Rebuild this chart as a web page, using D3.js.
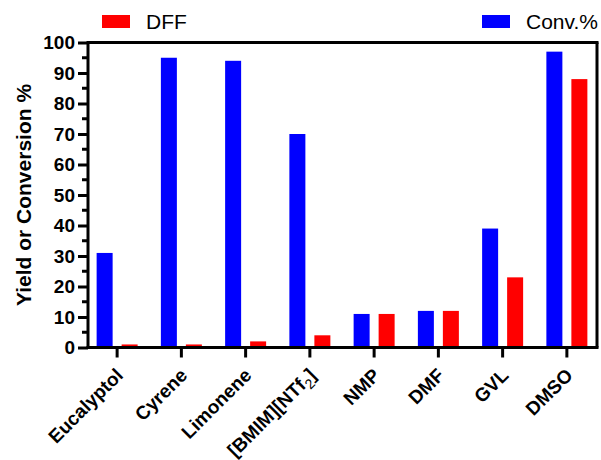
<!DOCTYPE html>
<html>
<head>
<meta charset="utf-8">
<script src="https://cdn.jsdelivr.net/npm/d3@7"></script>
<style>
  body { margin: 0; background: #fff; }
  text { font-family: "Liberation Sans", Arial, sans-serif; }
</style>
</head>
<body>
<svg id="chart"></svg>
<script>
// solvents on the x axis
let solvents = ['Eucalyptol', 'Cyrene', 'Limonene', '[BMIM][NTf2]', 'NMP', 'DMF', 'GVL', 'DMSO']
// series values
let convValues = [31, 95, 94, 70, 11, 12, 39, 97]
let dffValues = [1, 1, 2, 4, 11, 12, 23, 88]
let seriesNames = ['Conv.%', 'DFF']
let yTicks = [0, 10, 20, 30, 40, 50, 60, 70, 80, 90, 100]

let outerWidth = 601
let outerHeight = 460
let margins = { top: 42.5, bottom: 112.5, left: 88, right: 4 }

let svg = d3.select('svg#chart')
  .attr('width', outerWidth)
  .attr('height', outerHeight)

let colorScale = d3.scaleOrdinal()
  .domain(seriesNames)
  .range(['#0000ff', '#ff0000'])

// one row per solvent, built from the arrays above
let rows = solvents.map((s, i) => ({ solvent: s, 'Conv.%': convValues[i], DFF: dffValues[i] }))

let xScale = d3.scaleBand()
  .domain(solvents)
  .range([85, 599])
  .padding(0)

let subScale = d3.scaleBand()
  .domain(seriesNames)
  .range([-20.5, 20.5])
  .paddingInner(0.36)

let yScale = d3.scaleLinear()
  .domain([0, 100])
  .range([outerHeight - margins.bottom, margins.top])

let y0 = yScale(0)
let xLeft = margins.left
let xRight = outerWidth - margins.right

// bars
let groups = svg.append('g')
  .selectAll('g')
  .data(rows)
  .join('g')
  .attr('transform', d => `translate(${xScale(d.solvent) + xScale.bandwidth() / 2},0)`)

groups.selectAll('rect')
  .data(d => seriesNames.map(k => ({ key: k, value: d[k] })))
  .join('rect')
  .attr('x', d => subScale(d.key))
  .attr('width', subScale.bandwidth())
  .attr('y', d => yScale(d.value))
  .attr('height', d => y0 - yScale(d.value))
  .attr('fill', d => colorScale(d.key))

// frame: top and right lines
svg.append('line')
  .attr('x1', xLeft).attr('x2', xRight + 1.5)
  .attr('y1', margins.top).attr('y2', margins.top)
  .attr('stroke', '#000').attr('stroke-width', 3)
svg.append('line')
  .attr('x1', xRight).attr('x2', xRight)
  .attr('y1', margins.top).attr('y2', y0)
  .attr('stroke', '#000').attr('stroke-width', 3)

// y axis with minor ticks
let yAxis = d3.axisLeft(yScale)
  .tickValues(yTicks)
  .tickSize(10)
  .tickPadding(3)
let yAxisG = svg.append('g')
  .attr('class', 'y axis')
  .attr('transform', `translate(${xLeft},0)`)
  .call(yAxis)
yAxisG.select('.domain').remove()
yAxisG.selectAll('.tick line').attr('stroke', '#000').attr('stroke-width', 3)
yAxisG.selectAll('.tick text')
  .attr('fill', '#000')
  .style('font-size', '19px')
  .style('font-weight', 'bold')

let minorTicks = d3.range(5, 100, 10)
svg.append('g')
  .selectAll('line')
  .data(minorTicks)
  .join('line')
  .attr('x1', xLeft - 6).attr('x2', xLeft)
  .attr('y1', d => yScale(d)).attr('y2', d => yScale(d))
  .attr('stroke', '#000').attr('stroke-width', 3)

svg.append('line')
  .attr('x1', xLeft).attr('x2', xLeft)
  .attr('y1', margins.top - 1.5).attr('y2', y0 + 1.5)
  .attr('stroke', '#000').attr('stroke-width', 3)

// x axis
let xAxisG = svg.append('g')
  .attr('class', 'x axis')
  .attr('transform', `translate(0,${y0})`)
  .call(d3.axisBottom(xScale).tickSize(10).tickFormat(''))
xAxisG.select('.domain').remove()
xAxisG.selectAll('.tick line').attr('stroke', '#000').attr('stroke-width', 3)

svg.append('line')
  .attr('x1', xLeft - 1.5).attr('x2', xRight + 1.5)
  .attr('y1', y0).attr('y2', y0)
  .attr('stroke', '#000').attr('stroke-width', 3)

// rotated category labels
let labels = svg.append('g')
  .selectAll('text')
  .data(solvents)
  .join('text')
  .attr('transform', d => {
    let x = xScale(d) + xScale.bandwidth() / 2 + 7
    let y = y0 + 29
    return `translate(${x},${y}) rotate(-45)`
  })
  .attr('text-anchor', 'end')
  .style('font-size', '19px')
  .style('font-weight', 'bold')
  .attr('fill', '#000')

labels.each(function (d) {
  let t = d3.select(this)
  if (d === '[BMIM][NTf2]') {
    t.append('tspan').text('[BMIM][NTf')
    t.append('tspan').attr('dy', 5).style('font-size', '14px').style('font-weight', 'normal').text('2')
    t.append('tspan').attr('dy', -5).text(']')
  } else {
    t.text(d)
  }
})

// y axis title
svg.append('text')
  .attr('transform', `translate(31,${(margins.top + y0) / 2}) rotate(-90)`)
  .attr('text-anchor', 'middle')
  .style('font-size', '21px')
  .style('font-weight', 'bold')
  .text('Yield or Conversion %')

// legend
let legendItems = [
  { key: 'DFF', x: 102, tx: 146 },
  { key: 'Conv.%', x: 482, tx: 526 },
]
let legend = svg.append('g')
legend.selectAll('rect')
  .data(legendItems)
  .join('rect')
  .attr('x', d => d.x)
  .attr('y', 15)
  .attr('width', 28)
  .attr('height', 13)
  .attr('fill', d => colorScale(d.key))
legend.selectAll('text')
  .data(legendItems)
  .join('text')
  .attr('x', d => d.tx)
  .attr('y', 29)
  .style('font-size', '21px')
  .text(d => d.key)
</script>
</body>
</html>
